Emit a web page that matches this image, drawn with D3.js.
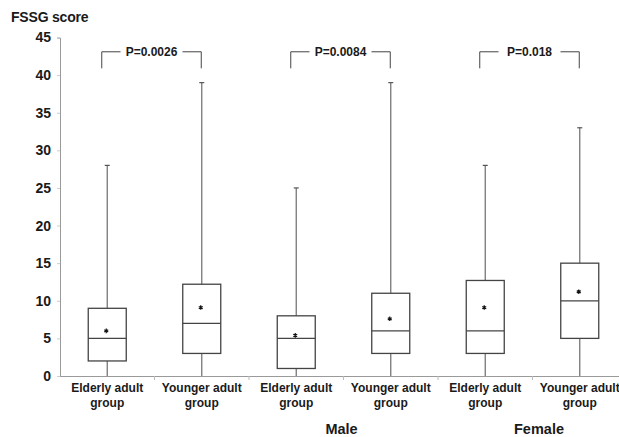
<!DOCTYPE html>
<html>
<head>
<meta charset="utf-8">
<script src="https://cdn.jsdelivr.net/npm/d3@7"></script>
<style>
  body { margin: 0; background: #fff; }
  svg { display: block; font-family: "Liberation Sans", Arial, sans-serif; }
</style>
</head>
<body>
<svg id="chart" width="619" height="437"></svg>
<script>
// data
const groupLines = [["Elderly adult", "group"], ["Younger adult", "group"]];
const pairLabels = ["", "Male", "Female"];
const pValues = ["P=0.0026", "P=0.0084", "P=0.018"];
const mins = [0, 0, 0, 0, 0, 0];
const q1s = [2, 3, 1, 3, 3, 5];
const medians = [5, 7, 5, 6, 6, 10];
const q3s = [9, 12.2, 8, 11, 12.7, 15];
const maxs = [28, 39, 25, 39, 28, 33];
const means = [6.0, 9.1, 5.4, 7.6, 9.1, 11.2];
const yTicks = [0, 5, 10, 15, 20, 25, 30, 35, 40, 45];

const svg = d3.select("#chart");
const idx = d3.range(6);

const x = d3.scaleBand().domain(idx).range([60, 627]).padding(0);
const y = d3.scaleLinear().domain([0, 45]).range([376, 37.5]);
const cx = i => x(i) + x.bandwidth() / 2;
const boxW = 38;

// y axis
const yAxis = svg.append("g").attr("transform", "translate(60,0)")
  .call(d3.axisLeft(y).tickValues(yTicks).tickSize(3).tickPadding(6));
yAxis.select(".domain").attr("stroke", "#9a9a9a");
yAxis.selectAll(".tick line").attr("stroke", "#ccc");
yAxis.selectAll("text").attr("font-size", 14).attr("font-weight", "bold")
  .attr("fill", "#1a1a1a").attr("font-family", "Liberation Sans, Arial, sans-serif");

// x axis
const xAxis = svg.append("g").attr("transform", "translate(0,376)")
  .call(d3.axisBottom(x).tickSize(0).tickFormat(""));
xAxis.select(".domain").attr("stroke", "#9a9a9a");
xAxis.selectAll(".tick").remove();
svg.append("g").selectAll("line")
  .data(d3.range(1, 7))
  .join("line")
  .attr("x1", i => 60 + i * x.bandwidth()).attr("x2", i => 60 + i * x.bandwidth())
  .attr("y1", 376).attr("y2", 380)
  .attr("stroke", "#bbb");

// y title
svg.append("text").attr("x", 11).attr("y", 22)
  .attr("font-size", 14).attr("font-weight", "bold").attr("fill", "#1a1a1a")
  .attr("letter-spacing", -0.2)
  .text("FSSG score");

// whiskers
const g = svg.append("g");
g.selectAll("line.whisker")
  .data(idx)
  .join("line")
  .attr("class", "whisker")
  .attr("x1", cx).attr("x2", cx)
  .attr("y1", i => y(mins[i])).attr("y2", i => y(maxs[i]))
  .attr("stroke", "#777").attr("stroke-width", 1.3);
g.selectAll("line.cap")
  .data(idx)
  .join("line")
  .attr("class", "cap")
  .attr("x1", i => cx(i) - 2.5).attr("x2", i => cx(i) + 2.5)
  .attr("y1", i => y(maxs[i])).attr("y2", i => y(maxs[i]))
  .attr("stroke", "#555").attr("stroke-width", 1.2);

// boxes
g.selectAll("rect")
  .data(idx)
  .join("rect")
  .attr("x", i => cx(i) - boxW / 2)
  .attr("width", boxW)
  .attr("y", i => y(q3s[i]))
  .attr("height", i => y(q1s[i]) - y(q3s[i]))
  .attr("fill", "#fff").attr("stroke", "#444").attr("stroke-width", 1.3);
g.selectAll("line.median")
  .data(idx)
  .join("line")
  .attr("class", "median")
  .attr("x1", i => cx(i) - boxW / 2).attr("x2", i => cx(i) + boxW / 2)
  .attr("y1", i => y(medians[i])).attr("y2", i => y(medians[i]))
  .attr("stroke", "#444").attr("stroke-width", 1.3);

// means
g.selectAll("path.mean")
  .data(idx)
  .join("path")
  .attr("class", "mean")
  .attr("transform", i => `translate(${cx(i) - 1},${y(means[i])})`)
  .attr("d", d3.symbol(d3.symbolAsterisk, 14))
  .attr("stroke", "#111").attr("stroke-width", 1.2).attr("fill", "none");

// category labels
idx.forEach(i => {
  const t = svg.append("text")
    .attr("text-anchor", "middle")
    .attr("font-size", 12).attr("font-weight", "bold").attr("fill", "#1a1a1a");
  groupLines[i % 2].forEach((line, k) => {
    t.append("tspan").attr("x", cx(i)).attr("y", 392 + k * 15).text(line);
  });
});

// pair labels
svg.selectAll("text.pair")
  .data(pairLabels)
  .join("text")
  .attr("class", "pair")
  .attr("x", (d, j) => j === 2 ? 539 : (x(2 * j) + x.bandwidth()) - 2)
  .attr("y", 434)
  .attr("text-anchor", "middle")
  .attr("font-size", 14.5).attr("font-weight", "bold").attr("fill", "#1a1a1a")
  .text(d => d);

// p-value brackets
const bTop = y(43.1), bBot = y(40.9);
pValues.forEach((p, j) => {
  const xl = cx(2 * j) - 5.5, xr = cx(2 * j + 1) - 0.5;
  const mid = (xl + xr) / 2;
  const half = 31;
  const b = svg.append("g").attr("stroke", "#444").attr("stroke-width", 1).attr("fill", "none");
  b.append("path").attr("d", `M${xl},${bBot}V${bTop}H${mid - half}`);
  b.append("path").attr("d", `M${mid + half},${bTop}H${xr}V${bBot}`);
  svg.append("text")
    .attr("x", mid).attr("y", bTop + 4.5)
    .attr("text-anchor", "middle")
    .attr("font-size", 12).attr("font-weight", "bold").attr("fill", "#1a1a1a")
    .text(p);
});
</script>
</body>
</html>
